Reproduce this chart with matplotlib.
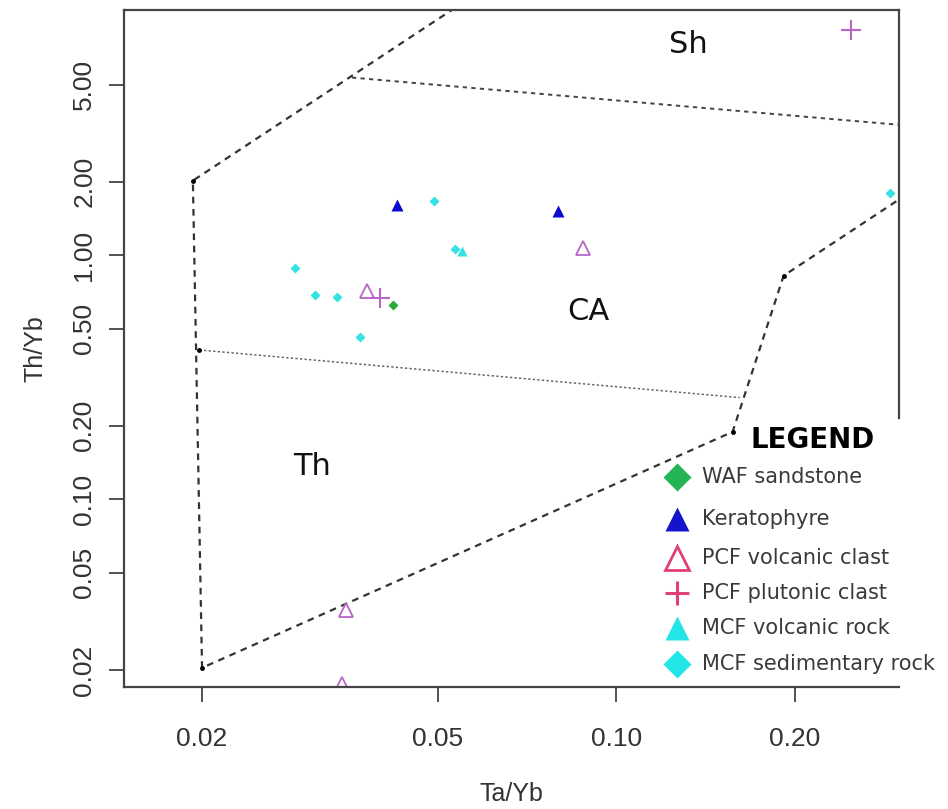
import matplotlib
matplotlib.use("Agg")
import matplotlib.pyplot as plt
from matplotlib.lines import Line2D
from matplotlib import font_manager

# font for the R-style axis text (narrow sans if present)
names = {f.name for f in font_manager.fontManager.ttflist}
narrow = 'Liberation Sans Narrow' if 'Liberation Sans Narrow' in names else 'Liberation Sans'

# --- data (Ta/Yb, Th/Yb) ---
waf_x = [0.0420]
waf_y = [0.627]

kera_x = [0.0427, 0.0796]
kera_y = [1.61, 1.52]

pcf_volc_x = [0.0379, 0.0878, 0.0350, 0.0344]
pcf_volc_y = [0.714, 1.07, 0.0352, 0.0175]

pcf_plut_x = [0.0399, 0.249]
pcf_plut_y = [0.670, 8.39]

mcf_volc_x = [0.0548]
mcf_volc_y = [1.04]

mcf_sed_x = [0.0287, 0.0310, 0.0338, 0.0369, 0.0492, 0.0534, 0.289]
mcf_sed_y = [0.889, 0.689, 0.676, 0.464, 1.66, 1.06, 1.80]

# field boundaries
outer_x = [0.0534, 0.0193, 0.0200, 0.157, 0.1914, 0.2995]
outer_y = [10.3, 2.02, 0.0204, 0.189, 0.824, 1.69]
sh_ca_x = [0.0358, 0.2995]
sh_ca_y = [5.34, 3.42]
ca_th_x = [0.0198, 0.1614]
ca_th_y = [0.409, 0.261]
vert_x = [0.0193, 0.0198, 0.0200, 0.157, 0.1914]
vert_y = [2.02, 0.409, 0.0204, 0.189, 0.824]

xticks = [0.02, 0.05, 0.10, 0.20]
xtick_labels = ['0.02', '0.05', '0.10', '0.20']
yticks = [0.02, 0.05, 0.10, 0.20, 0.50, 1.00, 2.00, 5.00]
ytick_labels = ['0.02', '0.05', '0.10', '0.20', '0.50', '1.00', '2.00', '5.00']

legend_labels = ['WAF sandstone', 'Keratophyre', 'PCF volcanic clast',
                 'PCF plutonic clast', 'MCF volcanic rock', 'MCF sedimentary rock']

fig = plt.figure(figsize=(9.48, 8.09), dpi=100)
ax = fig.add_axes([124/948, 1 - 687/809, (899-124)/948, (687-10)/809])
ax.set_xscale('log')
ax.set_yscale('log')
ax.set_xlim(0.01477, 0.2996)
ax.set_ylim(0.01703, 10.1)

# boundaries
ax.plot(outer_x, outer_y, color='#333333', lw=1.6, ls=(0, (3, 2.5)))
ax.plot(sh_ca_x, sh_ca_y, color='#444444', lw=1.4, ls=(0, (2.2, 2.2)))
ax.plot(ca_th_x, ca_th_y, color='#666666', lw=1.1, ls=(0, (1.5, 1.5)))
ax.plot(vert_x, vert_y, ls='none', marker='o', ms=2.5, color='black')

# samples
ax.plot(mcf_sed_x, mcf_sed_y, ls='none', marker='D', ms=5, color='#33e3e3', mec='none')
ax.plot(mcf_volc_x, mcf_volc_y, ls='none', marker='^', ms=7, color='#33e3e3', mec='none')
ax.plot(waf_x, waf_y, ls='none', marker='D', ms=5, color='#2aa838', mec='none')
ax.plot(kera_x, kera_y, ls='none', marker='^', ms=8, color='#0a0ad0', mec='none')
ax.plot(pcf_volc_x, pcf_volc_y, ls='none', marker='^', ms=10, mfc='none',
        mec='#b865c8', mew=1.3)
ax.plot(pcf_plut_x, pcf_plut_y, ls='none', marker='+', ms=14, color='#b865c8', mew=1.5)

# field labels
ax.text(0.132, 7.28, 'Sh', fontsize=22, ha='center', va='center', color='#111111')
ax.text(0.0895, 0.586, 'CA', fontsize=22, ha='center', va='center', color='#111111')
ax.text(0.0307, 0.136, 'Th', fontsize=22, ha='center', va='center', color='#111111')

# axes in R style
ax.set_xticks(xticks)
ax.set_xticklabels(xtick_labels)
ax.set_yticks(yticks)
ax.set_yticklabels(ytick_labels, rotation=90, va='center')
ax.minorticks_off()
ax.tick_params(direction='out', length=11, width=1.2, color='#333333',
               labelsize=19, labelcolor='#333333')
ax.tick_params(axis='x', pad=18)
ax.tick_params(axis='y', pad=9)
for lab in ax.get_xticklabels() + ax.get_yticklabels():
    lab.set_family(narrow)
for s in ax.spines.values():
    s.set_color('#444444')
    s.set_linewidth(1.6)
ax.spines['right'].set_bounds(0.215, 10.1)

ax.set_xlabel('Ta/Yb', fontsize=18, family=narrow, color='#333333', labelpad=22)
ax.set_ylabel('Th/Yb', fontsize=18, family=narrow, color='#333333', labelpad=18)

# legend drawn as a block in figure pixels
def fx(px):
    return px / 948

def fy(py):
    return 1 - py / 809

fig.text(fx(813), fy(440), 'LEGEND', fontsize=20, fontweight='bold',
         ha='center', va='center', color='black')
leg_markers = [('D', '#22b455', 'full', 14), ('^', '#1414cc', 'full', 17),
               ('^', '#e0407a', 'none', 17), ('+', '#e0407a', 'full', 17),
               ('^', '#22e6e6', 'full', 17), ('D', '#22e6e6', 'full', 14)]
leg_rows = [477, 519, 558, 593, 628, 664]
for (m, c, fill, ms), lab, row in zip(leg_markers, legend_labels, leg_rows):
    if fill == 'none':
        h = Line2D([fx(677)], [fy(row)], marker=m, ms=ms, mfc='none', mec=c,
                   mew=2, ls='none', transform=fig.transFigure)
    else:
        h = Line2D([fx(677)], [fy(row)], marker=m, ms=ms, color=c, mec='none' if m != '+' else c,
                   mew=2.2, ls='none', transform=fig.transFigure)
    fig.add_artist(h)
    fig.text(fx(702), fy(row), lab, fontsize=15, ha='left', va='center', color='#3a3a3a')

fig.savefig('out.png', dpi=100)
